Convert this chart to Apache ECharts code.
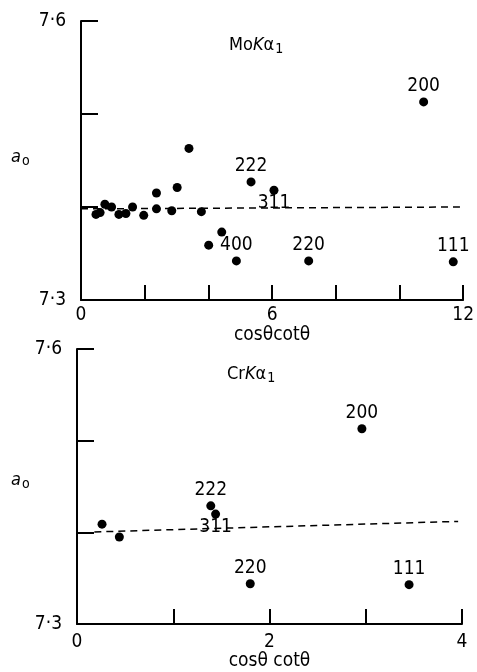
<!DOCTYPE html>
<html>
<head>
<meta charset="utf-8">
<script src="https://cdn.jsdelivr.net/npm/echarts@6/dist/echarts.min.js"></script>
<style>
html,body{margin:0;padding:0;background:#fff;}
#c{width:477px;height:672px;}
</style>
</head>
<body>
<div id="c"></div>
<script>
// ---- data ----
const moX = [0.47, 0.60, 0.75, 0.96, 1.19, 1.41, 1.62, 1.97, 2.37, 2.37, 2.85, 3.02, 3.39, 3.78, 4.01, 4.42, 4.88, 5.34, 6.06, 7.15, 10.76, 11.69];
const moY = [7.392, 7.394, 7.403, 7.400, 7.392, 7.393, 7.400, 7.391, 7.415, 7.398, 7.396, 7.421, 7.463, 7.395, 7.359, 7.373, 7.342, 7.427, 7.418, 7.342, 7.513, 7.341];
const moHkl = ['', '', '', '', '', '', '', '', '', '', '', '', '', '', '', '', '400', '222', '311', '220', '200', '111'];
const moFitX = [0, 11.9];
const moFitY = [7.398, 7.400];

const crX = [0.26, 0.44, 1.39, 1.44, 1.80, 2.96, 3.45];
const crY = [7.409, 7.395, 7.429, 7.420, 7.344, 7.513, 7.343];
const crHkl = ['', '', '222', '311', '220', '200', '111'];
const crFitX = [0.18, 3.96];
const crFitY = [7.4005, 7.412];

const yTicks = [7.3, 7.6];
const moXTicks = [0, 6, 12];
const crXTicks = [0, 2, 4];
const xName1 = 'cos\u03B8cot\u03B8';
const xName2 = 'cos\u03B8 cot\u03B8';

// ---- helpers ----
const FONT = '"DejaVu Sans Condensed","Liberation Sans Narrow","Liberation Sans",sans-serif';
const INK = '#000';
const FS = 19;

function pts(xs, ys, names) {
  return xs.map((x, i) => ({
    value: [x, ys[i]],
    label: {
      show: !!(names && names[i]),
      formatter: names ? names[i] : '',
      position: names && names[i] === '311' ? 'bottom' : 'top',
      distance: names && names[i] === '311' ? -1 : 2
    }
  }));
}

function yAxisFor(gi) {
  return {
    type: 'value', gridIndex: gi, min: 7.3, max: 7.6, interval: 0.1,
    axisLine: { show: true, lineStyle: { color: INK, width: 2 } },
    axisTick: { show: true, inside: true, length: 17, lineStyle: { color: INK, width: 2 } },
    splitLine: { show: false },
    axisLabel: {
      margin: 15, color: INK, fontSize: FS, fontFamily: FONT,
      formatter: v => {
        const r = Math.round(v * 10) / 10;
        return yTicks.some(t => Math.abs(t - r) < 1e-6) ? r.toFixed(1).replace('.', '\u00B7') : '';
      }
    }
  };
}

function xAxisFor(gi, max, interval, ticks, name, gap, margin) {
  return {
    type: 'value', gridIndex: gi, min: 0, max: max, interval: interval,
    name: name, nameLocation: 'middle', nameGap: gap,
    nameTextStyle: { color: INK, fontSize: FS, fontFamily: FONT },
    axisLine: { show: true, lineStyle: { color: INK, width: 2 } },
    axisTick: { show: true, inside: true, length: 15, lineStyle: { color: INK, width: 2 } },
    splitLine: { show: false },
    axisLabel: {
      margin: margin, color: INK, fontSize: FS, fontFamily: FONT,
      formatter: v => ticks.some(t => Math.abs(t - v) < 1e-6) ? String(Math.round(v)) : ''
    }
  };
}

function scatter(xi, yi, xs, ys, names) {
  return {
    type: 'scatter', xAxisIndex: xi, yAxisIndex: yi,
    symbol: 'circle', symbolSize: 9,
    itemStyle: { color: INK, opacity: 1 },
    label: { color: INK, fontSize: FS, fontFamily: FONT },
    data: pts(xs, ys, names),
    z: 3
  };
}

function fit(xi, yi, xs, ys) {
  return {
    type: 'line', xAxisIndex: xi, yAxisIndex: yi,
    showSymbol: false, symbol: 'none', silent: true,
    lineStyle: { color: INK, width: 1.5, type: [7, 5], opacity: 1 },
    data: xs.map((x, i) => [x, ys[i]]),
    z: 2
  };
}

function italicLabel(left, top, parts) {
  return {
    type: 'text', left: left, top: top, silent: true,
    style: {
      text: parts,
      fill: INK,
      rich: {
        n: { fontSize: 18, fontFamily: FONT, fill: INK },
        i: { fontSize: 18, fontFamily: FONT, fontStyle: 'italic', fill: INK },
        s: { fontSize: 14, fontFamily: FONT, fill: INK, verticalAlign: 'bottom', padding: [9, 0, 0, 1] }
      }
    }
  };
}

const chart = echarts.init(document.getElementById('c'), null, { renderer: 'canvas' });
chart.setOption({
  animation: false,
  backgroundColor: '#fff',
  grid: [
    { left: 81, right: 10, top: 21, height: 279 },
    { left: 77, right: 15, top: 349, height: 276 }
  ],
  xAxis: [
    xAxisFor(0, 12, 2, moXTicks, xName1, 23, 6),
    xAxisFor(1, 4, 1, crXTicks, xName2, 27, 8)
  ],
  yAxis: [yAxisFor(0), yAxisFor(1)],
  series: [
    fit(0, 0, moFitX, moFitY),
    scatter(0, 0, moX, moY, moHkl),
    fit(1, 1, crFitX, crFitY),
    scatter(1, 1, crX, crY, crHkl)
  ],
  graphic: [
    italicLabel(11, 148, '{i|a}{s|o}'),
    italicLabel(11, 471, '{i|a}{s|o}'),
    italicLabel(229, 36, '{n|Mo}{i|K}{n|\u03B1}{s|1}'),
    italicLabel(227, 365, '{n|Cr}{i|K}{n|\u03B1}{s|1}')
  ]
});
</script>
</body>
</html>
